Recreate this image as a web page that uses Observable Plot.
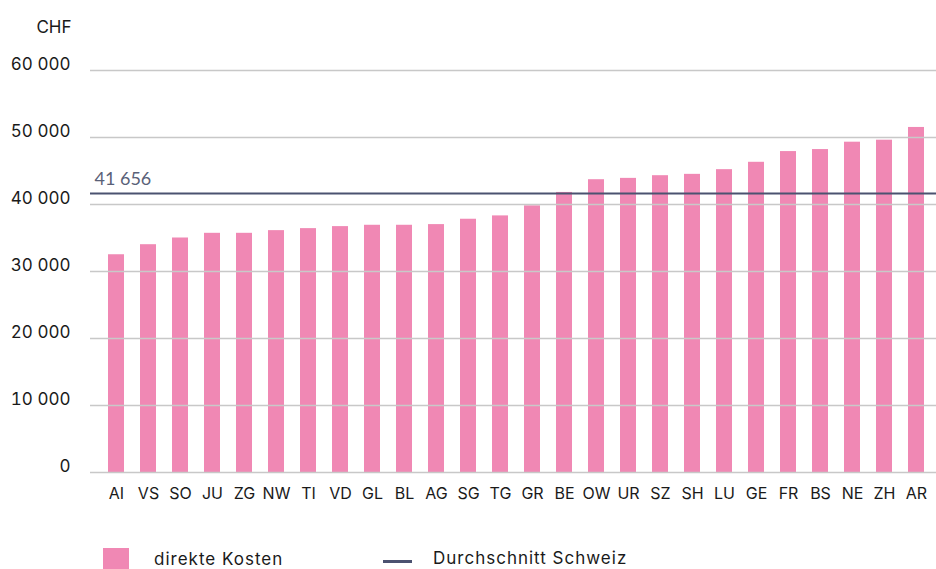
<!DOCTYPE html>
<html>
<head>
<meta charset="utf-8">
<script src="https://cdn.jsdelivr.net/npm/d3@7"></script>
<script src="https://cdn.jsdelivr.net/npm/@observablehq/plot@0.6"></script>
<style>
  html, body { margin: 0; padding: 0; background: #ffffff; overflow: hidden; }
  #wrap { position: relative; width: 936px; height: 569px; font-family: Inter, "Noto Sans", sans-serif; color: #1a1a1a; }
  .legend { position: absolute; top: 548px; left: 0; width: 936px; height: 21px; font-size: 17px; letter-spacing: 1px; }
  .swatch { position: absolute; left: 103px; top: 0; width: 26px; height: 21px; background: #f088b4; }
  .lbl1 { position: absolute; left: 154px; top: 2px; line-height: 19px; }
  .line { position: absolute; left: 383px; top: 12px; width: 29px; height: 2.5px; background: #4b5270; }
  .lbl2 { position: absolute; left: 433px; top: 1px; line-height: 19px; }
</style>
</head>
<body>
<div id="wrap">
  <div id="chart"></div>
  <div class="legend">
    <div class="swatch"></div><div class="lbl1">direkte Kosten</div>
    <div class="line"></div><div class="lbl2">Durchschnitt Schweiz</div>
  </div>
</div>
<script>
const cantons = ["AI","VS","SO","JU","ZG","NW","TI","VD","GL","BL","AG","SG","TG","GR","BE","OW","UR","SZ","SH","LU","GE","FR","BS","NE","ZH","AR"];
const directCosts = [32500, 34000, 35000, 35700, 35700, 36100, 36400, 36700, 36900, 36900, 37000, 37800, 38300, 39800, 41800, 43700, 43900, 44300, 44500, 45200, 46300, 47900, 48200, 49300, 49600, 51500];
const swissAverage = 41656;
const yTicks = [0, 10000, 20000, 30000, 40000, 50000, 60000];
const yUnit = "CHF";

const fmt = d => d3.format(",")(d).replace(/,/g, " ");
const data = cantons.map((c, i) => ({canton: c, value: directCosts[i]}));

const chart = Plot.plot({
  width: 936,
  height: 530,
  marginLeft: 90,
  marginRight: 0,
  marginTop: 70,
  marginBottom: 58,
  style: {fontFamily: "Inter, 'Noto Sans', sans-serif", color: "#1a1a1a", background: "#ffffff"},
  x: {domain: cantons, paddingInner: 0.5, paddingOuter: 0.46875, align: 0.6, label: null},
  y: {domain: [0, 60000], label: null},
  marks: [
    Plot.barY(data, {x: "canton", y: "value", fill: "#f088b4"}),
    Plot.ruleY(yTicks, {stroke: "#c8c8c8", strokeWidth: 1.5}),
    Plot.ruleY([swissAverage], {stroke: "#4b5270", strokeWidth: 2}),
    Plot.text([swissAverage], {y: d => d, text: d => fmt(d), frameAnchor: "left", dx: 4, dy: -14, textAnchor: "start", fill: "#5a6178", fontSize: 18, fontFamily: "Lato"}),
    Plot.axisY({ticks: yTicks, tickFormat: fmt, tickSize: 0, tickPadding: 20, fontSize: 17, dy: -6, label: null}),
    Plot.axisX({tickSize: 0, tickPadding: 15, fontSize: 16, label: null}),
    Plot.text([yUnit], {text: d => d, frameAnchor: "top-left", dx: -19, dy: -50, textAnchor: "end", fontSize: 17})
  ]
});
document.getElementById("chart").appendChild(chart);
</script>
</body>
</html>
